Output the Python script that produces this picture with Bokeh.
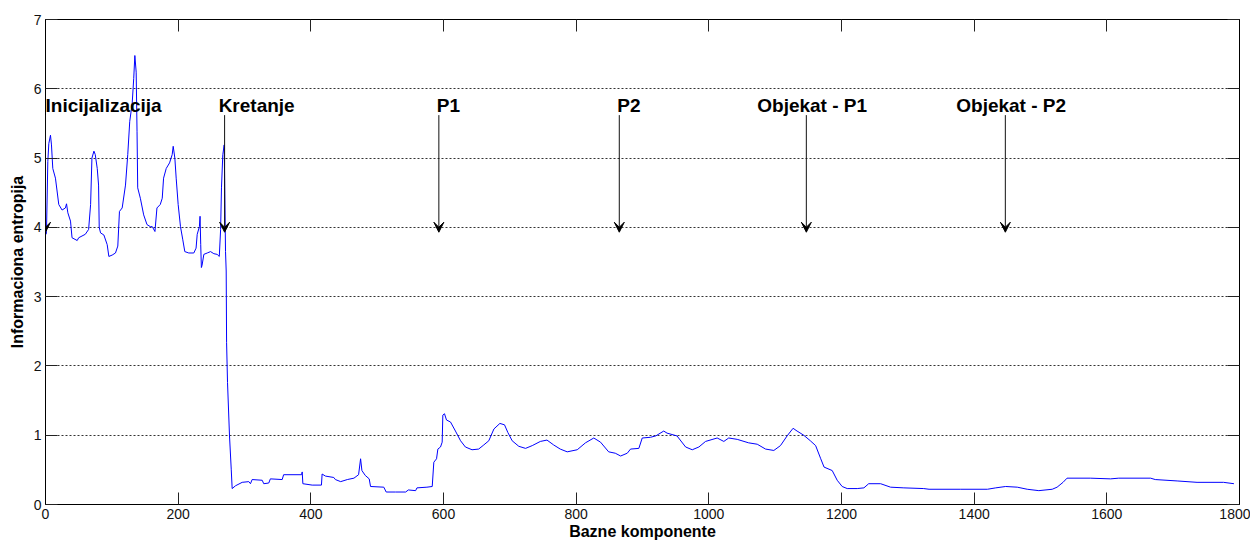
from bokeh.plotting import figure
from bokeh.models import (LinearAxis, FixedTicker, ColumnDataSource, Arrow, VeeHead,
                          LabelSet, Range1d)
from bokeh.core.properties import value
from bokeh.embed import file_html
from bokeh.resources import INLINE

# ---- data ----
comp = [1, 1.5, 3.5, 5, 7.5, 9, 11, 15, 20, 25, 30, 31.7, 33.7, 37.7, 40, 47.8, 50, 60, 65, 68,
        70, 73, 75, 78, 80, 81, 83, 88, 93, 95.5, 100.5, 105.5, 109, 111.5, 115.6, 120.6, 124, 127,
        130.7, 133, 134.7, 136.7, 138, 139, 143, 148, 153, 158, 161, 165, 168, 173, 176, 178, 182,
        187, 191, 192.5, 195, 197, 200, 203.5, 207, 210, 216, 223.6, 227, 228.7, 232, 233, 234,
        235, 236, 238.7, 243.8, 248.8, 253.8, 258.8, 262, 264, 265.3, 267.3, 269.4, 271.4, 272.4,
        273, 274.4, 277.4, 280, 281.4, 286.4, 296.5, 306.5, 309, 311.5, 326.7, 329, 336.6, 339,
        356.8, 359, 386, 387, 388, 402, 416, 417, 422, 434.6, 437, 445, 455, 465, 472, 475, 477,
        482, 488, 490, 510, 513.6, 527.6, 543, 547, 558, 560, 575, 583, 585.4, 589.5, 591.5,
        595.5, 598, 599, 601.5, 604.5, 610.6, 618, 625.7, 633, 643, 653, 660.8, 668.3, 676, 685,
        692, 697, 703.5, 713.5, 723.7, 733.8, 746, 756, 766, 776, 786.5, 801.6, 814, 826.6, 836.7,
        849, 859, 867, 877, 882, 894.5, 899.6, 912, 920, 932, 937, 952, 965, 975, 985, 995,
        1012.6, 1022.6, 1030, 1042.8, 1060, 1073, 1085.5, 1098, 1108, 1118, 1127, 1133, 1143,
        1153, 1161, 1168.7, 1173.7, 1186, 1193.5, 1201, 1208.6, 1223.7, 1233.8, 1241, 1259, 1274,
        1294, 1324, 1332, 1379, 1420, 1432.5, 1447.5, 1465, 1480, 1497.5, 1517.7, 1525, 1534,
        1540, 1575, 1605.6, 1618, 1666, 1673, 1706, 1736, 1776, 1791.6]
entropy = [3.9, 3.94, 4.95, 5.21, 5.33, 5.19, 4.85, 4.71, 4.33, 4.25, 4.28, 4.34, 4.21, 4.09, 3.85,
           3.81, 3.85, 3.9, 3.97, 4.33, 5.0, 5.1, 5.05, 4.85, 4.61, 4.0, 3.92, 3.89, 3.75, 3.58,
           3.6, 3.63, 3.73, 4.23, 4.28, 4.61, 5.05, 5.53, 5.79, 6.15, 6.48, 6.24, 5.38, 4.57, 4.42,
           4.18, 4.04, 4.01, 4.01, 3.94, 4.28, 4.33, 4.42, 4.71, 4.85, 4.93, 5.05, 5.17, 5.0, 4.71,
           4.33, 4.01, 3.82, 3.65, 3.63, 3.63, 3.70, 3.9, 4.01, 4.16, 3.75, 3.42, 3.45, 3.61, 3.63,
           3.65, 3.62, 3.61, 3.58, 3.97, 4.57, 5.05, 5.19, 3.65, 3.37, 2.34, 1.76, 0.99, 0.51,
           0.23, 0.27, 0.32, 0.33, 0.30, 0.36, 0.35, 0.30, 0.31, 0.37, 0.36, 0.43, 0.43, 0.47,
           0.30, 0.28, 0.28, 0.44, 0.41, 0.39, 0.36, 0.33, 0.36, 0.38, 0.43, 0.66, 0.49, 0.42,
           0.37, 0.26, 0.25, 0.18, 0.18, 0.18, 0.21, 0.2, 0.24, 0.25, 0.26, 0.61, 0.66, 0.80,
           0.83, 0.90, 1.29, 1.31, 1.22, 1.19, 1.06, 0.92, 0.83, 0.79, 0.80, 0.86, 0.92, 1.09,
           1.17, 1.15, 1.04, 0.92, 0.84, 0.81, 0.85, 0.91, 0.93, 0.86, 0.80, 0.76, 0.79, 0.89,
           0.96, 0.90, 0.76, 0.74, 0.70, 0.74, 0.80, 0.81, 0.96, 0.97, 0.99, 1.06, 1.03, 0.99,
           0.83, 0.79, 0.83, 0.91, 0.96, 0.91, 0.96, 0.94, 0.89, 0.87, 0.80, 0.78, 0.85, 0.99,
           1.10, 1.06, 1.00, 0.92, 0.85, 0.66, 0.54, 0.49, 0.35, 0.26, 0.23, 0.23, 0.24, 0.30,
           0.30, 0.25, 0.24, 0.23, 0.22, 0.22, 0.22, 0.24, 0.26, 0.25, 0.22, 0.20, 0.22, 0.25,
           0.32, 0.38, 0.38, 0.37, 0.38, 0.38, 0.36, 0.34, 0.32, 0.32, 0.30]

event_labels = ["Inicijalizacija", "Kretanje", "P1", "P2", "Objekat - P1", "Objekat - P2"]
event_arrow_x = [0, 270, 593, 865, 1147, 1447]
event_text_x = [0, 261, 590, 862, 1073, 1373]

x_ticks = [0, 200, 400, 600, 800, 1000, 1200, 1400, 1600, 1800]
y_ticks = [0, 1, 2, 3, 4, 5, 6, 7]

FONT = "Liberation Sans"

p = figure(width=1250, height=542, output_backend="svg", toolbar_location=None,
           x_range=Range1d(0, 1800), y_range=Range1d(0, 7),
           min_border_left=45, min_border_top=19, min_border_right=11, min_border_bottom=10,
           background_fill_color="white", border_fill_color="white")
p.outline_line_color = "black"
p.outline_line_width = 1

p.line(comp, entropy, line_color="#0000ff", line_width=1)

# arrows
arr_src = ColumnDataSource(dict(x=event_arrow_x, y0=[5.62] * 6, y1=[3.93] * 6))
p.add_layout(Arrow(x_start="x", y_start="y0", x_end="x", y_end="y1", source=arr_src,
                   line_color="#111111", line_width=1,
                   end=VeeHead(size=10, fill_color="black", line_color="black", line_width=1)))

lab_src = ColumnDataSource(dict(x=event_text_x, y=[5.66] * 6, t=event_labels))
p.add_layout(LabelSet(x="x", y="y", text="t", source=lab_src, text_font=value(FONT),
                      text_font_size=value("19px"), text_font_style=value("bold"),
                      text_color=value("black"),
                      text_align=value("left"), text_baseline=value("alphabetic")))

# grid
p.xgrid.visible = False
p.ygrid.ticker = FixedTicker(ticks=y_ticks)
p.ygrid.grid_line_color = "#333333"
p.ygrid.grid_line_dash = "2 2"
p.ygrid.grid_line_width = 1

def style_axis(ax, ticks, show_labels=True):
    ax.ticker = FixedTicker(ticks=ticks)
    ax.major_tick_in = 12
    ax.major_tick_out = 0
    ax.minor_tick_line_color = None
    ax.axis_line_color = "black"
    ax.major_tick_line_color = "#222222"
    ax.major_label_text_font = FONT
    if show_labels:
        ax.major_label_text_font_size = "14px"
        ax.major_label_text_color = "#111111"
    else:
        ax.major_label_text_font_size = "1px"
        ax.major_label_text_color = None
        ax.major_label_standoff = 0

xa = p.xaxis[0]
style_axis(xa, x_ticks)
xa.major_label_standoff = 4
xa.axis_label = "Bazne komponente"
xa.axis_label_text_font = FONT
xa.axis_label_text_font_size = "16px"
xa.axis_label_text_font_style = "bold"
xa.axis_label_text_color = "black"
xa.axis_label_standoff = 1

ya = p.yaxis[0]
style_axis(ya, y_ticks)
ya.major_label_standoff = 4
ya.axis_label = "Informaciona entropija"
ya.axis_label_text_font = FONT
ya.axis_label_text_font_size = "16px"
ya.axis_label_text_font_style = "bold"
ya.axis_label_text_color = "black"
ya.axis_label_standoff = 5

top = LinearAxis()
style_axis(top, x_ticks, show_labels=False)
p.add_layout(top, "above")
right = LinearAxis()
style_axis(right, y_ticks, show_labels=False)
p.add_layout(right, "right")

open("out.html", "w").write(file_html(p, INLINE))
